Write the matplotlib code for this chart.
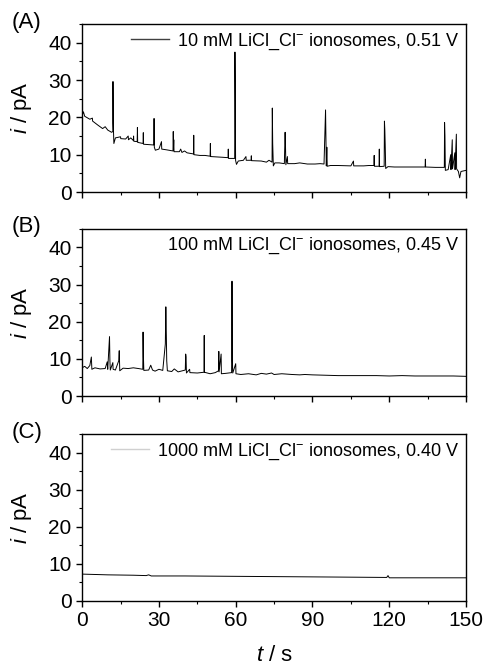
import matplotlib
matplotlib.use("Agg")
import matplotlib.pyplot as plt
from matplotlib.lines import Line2D
from matplotlib.ticker import MultipleLocator

plt.rcParams.update({
    "font.family": ["Liberation Sans", "DejaVu Sans"],
    "mathtext.fontset": "custom",
    "mathtext.rm": "Liberation Sans",
    "mathtext.it": "Liberation Sans:italic",
    "axes.linewidth": 1.0,
})

# ---- Data ----
# (A) 10 mM, 0.51 V
t_a = [0, 0.5, 1, 3, 4, 4.1, 6, 8, 9, 10, 11.5, 12, 12.05, 12.15, 12.4, 13, 15, 15.1, 17, 18,
       18.1, 19, 20, 20.1, 20.2, 21.5, 21.6, 21.7, 23.8, 23.9, 24.0, 28, 28.1, 28.2, 28.6, 30, 31,
       31.1, 33, 35.5, 35.6, 35.7, 35.8, 35.9, 38, 38.5, 39, 40, 41, 43.5, 43.6, 43.7, 46, 48, 50,
       50.1, 50.2, 53, 55, 57, 57.1, 57.2, 59.6, 59.7, 59.85, 59.95, 60.3, 61, 63, 64, 64.1, 66,
       66.1, 66.2, 70, 72, 73, 74.2, 74.3, 74.45, 74.7, 75.3, 77, 79, 79.3, 79.45, 79.6, 80.2, 80.3,
       83, 85, 88, 91, 93, 94.5, 95.1, 95.25, 95.4, 95.6, 95.75, 97, 100, 105, 106, 106.1, 110,
       112, 114, 114.1, 114.2, 116, 116.1, 116.2, 118, 118.1, 118.25, 118.4, 118.6, 119.5, 122,
       125, 128, 131, 134, 134.1, 134.2, 138, 141.5, 141.6, 141.75, 141.9, 143, 144, 144.1, 144.6,
       144.7, 145.6, 145.7, 146.2, 146.3, 147, 147.5, 148, 150]
i_a = [20.5, 21.5, 20.3, 19.5, 19.8, 19.0, 18.0, 17.0, 17.5, 16.6, 16.0, 16.2, 29.6, 18.5, 13.0,
       14.5, 14.8, 14.3, 14.2, 15.0, 14.0, 14.5, 13.8, 15.0, 13.6, 13.5, 17.3, 13.3, 13.0, 15.9,
       12.8, 12.6, 19.7, 12.0, 11.2, 11.5, 13.5, 11.5, 11.3, 11.0, 16.2, 12.0, 14.0, 10.8, 10.8,
       11.5, 10.6, 11.0, 10.5, 10.2, 15.2, 10.0, 9.8, 9.8, 9.6, 13.0, 9.5, 9.4, 9.3, 9.2, 11.5,
       9.0, 9.0, 37.5, 24.0, 8.5, 7.4, 8.3, 8.5, 9.5, 8.5, 8.5, 9.7, 8.4, 8.3, 8.0, 8.5, 8.0,
       22.5, 13.0, 7.0, 7.8, 7.8, 7.6, 16.0, 12.3, 7.3, 9.5, 7.6, 7.6, 7.8, 7.5, 7.5, 7.6, 7.5,
       22.0, 13.5, 7.0, 12.0, 6.9, 7.1, 7.1, 7.0, 8.3, 7.0, 7.0, 7.1, 7.1, 9.8, 6.9, 6.9, 11.5,
       6.8, 6.9, 19.0, 16.8, 12.8, 6.3, 6.8, 6.7, 6.7, 6.7, 6.7, 6.7, 8.8, 6.7, 6.6, 6.6, 18.6,
       15.0, 5.8, 6.0, 10.0, 6.0, 14.0, 6.2, 10.5, 6.0, 15.5, 6.2, 5.5, 3.8, 5.5, 5.8]

# (B) 100 mM, 0.45 V
t_b = [0, 1, 2, 3, 3.6, 3.8, 5, 7, 9, 9.8, 10.0, 10.7, 10.85, 11.0, 12, 12.1, 13, 14.3, 14.5,
       14.7, 16, 18, 20, 22, 23.7, 23.8, 23.95, 24.1, 26, 26.8, 27.5, 28.5, 30, 31.5, 32.5, 32.7,
       32.9, 33.05, 33.3, 35, 36, 37.5, 40.3, 40.45, 40.6, 40.75, 42, 42.1, 45, 47.6, 47.7, 47.8,
       50, 52, 53.3, 53.4, 53.5, 54.3, 54.4, 56, 58.4, 58.55, 58.7, 58.85, 60, 60.1, 62, 65, 68,
       70, 72, 74, 75, 78, 80, 82, 85, 87, 90, 95, 100, 105, 110, 115, 120, 125, 130, 135, 140,
       145, 150]
i_b = [7.6, 8.0, 7.4, 8.2, 10.5, 7.2, 7.6, 7.3, 7.4, 9.2, 7.2, 16.0, 9.5, 7.0, 9.0, 7.2, 7.0,
       9.5, 12.2, 6.8, 7.5, 7.4, 7.6, 7.4, 7.2, 17.2, 10.5, 6.9, 7.0, 8.3, 7.0, 6.7, 7.2, 6.9,
       14.0, 24.0, 16.2, 9.5, 6.8, 6.6, 7.3, 6.5, 7.0, 11.3, 10.5, 6.2, 7.2, 6.3, 6.2, 6.4, 16.3,
       6.4, 6.0, 6.3, 6.8, 12.0, 6.5, 11.3, 6.0, 6.1, 6.3, 30.9, 9.6, 6.2, 8.7, 6.0, 5.8, 6.0,
       5.7, 6.1, 5.9, 6.2, 5.8, 6.0, 5.9, 5.8, 5.7, 5.8, 5.7, 5.6, 5.5, 5.5, 5.5, 5.5, 5.4, 5.5,
       5.4, 5.4, 5.4, 5.4, 5.3]

# (C) 1000 mM, 0.40 V
t_c = [0, 10, 20, 25, 26, 27, 40, 60, 80, 100, 119, 119.5, 120, 135, 150]
i_c = [7.2, 7.0, 6.9, 6.8, 7.0, 6.7, 6.7, 6.6, 6.5, 6.4, 6.3, 6.8, 6.2, 6.2, 6.2]

traces = [(t_a, i_a), (t_b, i_b), (t_c, i_c)]
panel_tags = ["(A)", "(B)", "(C)"]
legend_texts = [
    "10 mM LiCl_Cl$^{-}$ ionosomes, 0.51 V",
    "100 mM LiCl_Cl$^{-}$ ionosomes, 0.45 V",
    "1000 mM LiCl_Cl$^{-}$ ionosomes, 0.40 V",
]
handle_colors = ["#404040", "white", "#d0d0d0"]

fig = plt.figure(figsize=(4.86, 6.69), dpi=100)

# axes boxes in figure fractions [left, bottom, width, height]
boxes = [
    [0.169, 0.713, 0.790, 0.251],
    [0.169, 0.408, 0.790, 0.250],
    [0.169, 0.102, 0.790, 0.249],
]

for k, (t, cur) in enumerate(traces):
    ax = fig.add_axes(boxes[k])
    ax.plot(t, cur, color="black", lw=0.7)
    ax.set_xlim(0, 150)
    ax.set_ylim(0, 45)
    ax.xaxis.set_major_locator(MultipleLocator(30))
    ax.xaxis.set_minor_locator(MultipleLocator(15))
    ax.yaxis.set_major_locator(MultipleLocator(10))
    ax.yaxis.set_minor_locator(MultipleLocator(5))
    ax.tick_params(which="major", direction="out", length=4, width=1.0,
                   labelsize=15, pad=3.5)
    ax.tick_params(which="minor", direction="out", length=2.5, width=0.8)
    ax.set_ylabel(r"$\it{i}$ / pA", fontsize=16)
    ax.yaxis.set_label_coords(-0.125, 0.5)
    if k < 2:
        ax.tick_params(axis="x", labelbottom=False)
    else:
        ax.set_xlabel(r"$\it{t}$ / s", fontsize=16, labelpad=11)

    h = Line2D([0], [0], color=handle_colors[k], lw=1.0)
    ax.legend([h], [legend_texts[k]], loc="upper right", frameon=False,
              fontsize=13, handlelength=2.1, handletextpad=0.45,
              borderaxespad=0.05, borderpad=0.35)

    fig.text(0.024, boxes[k][1] + boxes[k][3] + 0.003, panel_tags[k],
             fontsize=16, va="center", ha="left")

fig.savefig("out.png", dpi=100, facecolor="white")
